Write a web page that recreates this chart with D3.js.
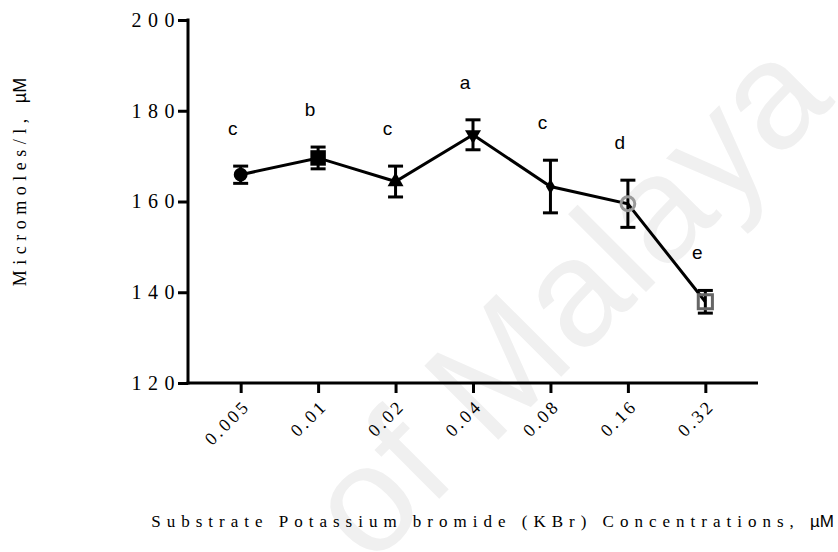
<!DOCTYPE html>
<html>
<head>
<meta charset="utf-8">
<script src="https://cdn.jsdelivr.net/npm/d3@7"></script>
<style>
  html, body { margin: 0; padding: 0; background: #fff; }
  svg { display: block; }
</style>
</head>
<body>
<svg id="chart" width="838" height="552"></svg>
<script>
// KBr concentrations (µM) and measured response
const concentrations = ["0.005", "0.01", "0.02", "0.04", "0.08", "0.16", "0.32"];
const meanValues = [165.9, 169.6, 164.4, 174.7, 163.3, 159.5, 137.9];
const errorValues = [1.9, 2.4, 3.4, 3.3, 5.8, 5.2, 2.5];
const groupLetters = ["c", "b", "c", "a", "c", "d", "e"];
const yTicks = [120, 140, 160, 180, 200];

const svg = d3.select("#chart");

// University watermark behind the plot
svg.append("text")
  .attr("transform", "translate(370,568) rotate(-45)")
  .attr("font-family", "Liberation Sans, Arial, sans-serif")
  .attr("font-size", 152)
  .attr("fill", "#f0f0f0")
  .text("of Malaya");

const x = d3.scalePoint()
  .domain(concentrations)
  .range([188, 758])
  .padding(0.68);

const y = d3.scaleLinear()
  .domain([120, 200])
  .range([383, 20]);

const serif = "Liberation Serif, Times New Roman, serif";
const sans = "Liberation Sans, Arial, sans-serif";

// Y axis
const yAxis = svg.append("g")
  .attr("transform", "translate(188,0)")
  .call(d3.axisLeft(y).tickValues(yTicks).tickSize(10).tickPadding(6).tickFormat(d3.format("d")));
yAxis.select(".domain").attr("stroke", "#000").attr("stroke-width", 3).attr("d", `M0,${y(200) - 1.5}V${y(120) + 1.5}`);
yAxis.selectAll(".tick line").attr("stroke", "#000").attr("stroke-width", 3);
yAxis.selectAll(".tick text")
  .attr("font-family", serif)
  .attr("font-size", 20)
  .attr("letter-spacing", 6.5)
  .attr("fill", "#000")
  .attr("dx", 9);

// X axis
const xAxis = svg.append("g")
  .attr("transform", "translate(0,383)")
  .call(d3.axisBottom(x).tickSize(10).tickFormat(d => d));
xAxis.select(".domain").attr("stroke", "#000").attr("stroke-width", 3).attr("d", "M186.5,0H758");
xAxis.selectAll(".tick line").attr("stroke", "#000").attr("stroke-width", 3);
xAxis.selectAll(".tick text")
  .attr("font-family", serif)
  .attr("font-size", 18)
  .attr("letter-spacing", 3)
  .attr("fill", "#000")
  .attr("text-anchor", "end")
  .attr("y", 0)
  .attr("dy", 0)
  .attr("transform", "translate(10,24) rotate(-45)");

// Axis titles
svg.append("text")
  .attr("transform", "translate(26,182) rotate(-90)")
  .attr("text-anchor", "middle")
  .attr("font-family", serif)
  .attr("font-size", 18)
  .attr("letter-spacing", 5.5)
  .call(t => {
    t.append("tspan").text("Micromoles/l, ");
    t.append("tspan").attr("font-family", sans).attr("letter-spacing", 0).text("µM");
  });

svg.append("text")
  .attr("x", 834)
  .attr("y", 527)
  .attr("text-anchor", "end")
  .attr("font-family", serif)
  .attr("font-size", 17)
  .attr("letter-spacing", 6)
  .call(t => {
    t.append("tspan").text("Substrate Potassium bromide (KBr) Concentrations, ");
    t.append("tspan").attr("font-family", sans).attr("letter-spacing", 0).text("µM");
  });

const pts = concentrations.map((c, i) => ({
  c, m: meanValues[i], e: errorValues[i], g: groupLetters[i]
}));

// Connecting line
svg.append("path")
  .datum(pts)
  .attr("fill", "none")
  .attr("stroke", "#000")
  .attr("stroke-width", 3)
  .attr("d", d3.line().x(d => x(d.c)).y(d => y(d.m)));

// Error bars
const eb = svg.append("g").attr("stroke", "#000").attr("stroke-width", 3);
pts.forEach(d => {
  const cx = x(d.c);
  eb.append("line").attr("x1", cx).attr("x2", cx).attr("y1", y(d.m + d.e)).attr("y2", y(d.m - d.e));
  eb.append("line").attr("x1", cx - 7.5).attr("x2", cx + 7.5).attr("y1", y(d.m + d.e)).attr("y2", y(d.m + d.e));
  eb.append("line").attr("x1", cx - 7.5).attr("x2", cx + 7.5).attr("y1", y(d.m - d.e)).attr("y2", y(d.m - d.e));
});

// Markers, one style per concentration
const markerStyles = [
  { type: d3.symbolCircle, size: 150, fill: "#000", stroke: "none" },
  { type: d3.symbolSquare, size: 240, fill: "#000", stroke: "none" },
  { type: d3.symbolTriangle, size: 110, fill: "#000", stroke: "none" },
  { type: d3.symbolTriangle, size: 110, fill: "#000", stroke: "none", rot: 180 },
  { type: d3.symbolDiamond, size: 70, fill: "#000", stroke: "none" },
  { type: d3.symbolCircle, size: 150, fill: "none", stroke: "#999" },
  { type: d3.symbolSquare, size: 200, fill: "none", stroke: "#666" }
];
pts.forEach((d, i) => {
  const s = markerStyles[i];
  svg.append("path")
    .attr("d", d3.symbol().type(s.type).size(s.size)())
    .attr("transform", `translate(${x(d.c)},${y(d.m)}) rotate(${s.rot || 0})`)
    .attr("fill", s.fill)
    .attr("stroke", s.stroke)
    .attr("stroke-width", 3);
});

// Significance letters
svg.append("g")
  .selectAll("text")
  .data(pts)
  .join("text")
  .attr("x", d => x(d.c) - 8)
  .attr("y", d => y(d.m + d.e) - 31)
  .attr("text-anchor", "middle")
  .attr("font-family", sans)
  .attr("font-size", 19)
  .attr("fill", "#000")
  .text(d => d.g);
</script>
</body>
</html>
